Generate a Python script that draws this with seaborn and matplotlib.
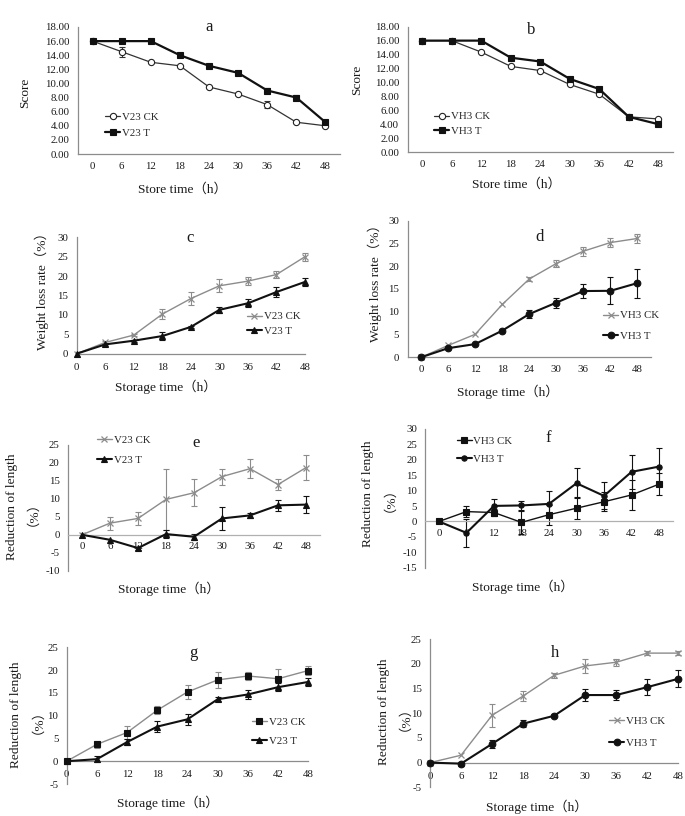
import numpy as np
import pandas as pd
import matplotlib
matplotlib.use("Agg")
import matplotlib.pyplot as plt
from matplotlib.ticker import FormatStrFormatter, FixedLocator
import seaborn as sns

times = [0, 6, 12, 18, 24, 30, 36, 42, 48]

# a: score V23
a_ck = [16.0, 14.5, 13.0, 12.5, 9.5, 8.5, 7.0, 4.5, 4.0]
a_ck_err = [0, 0.7, 0, 0, 0, 0, 0.5, 0, 0]
a_t = [16.0, 16.0, 16.0, 14.0, 12.5, 11.5, 9.0, 8.0, 4.5]
a_t_err = [0, 0, 0, 0, 0, 0, 0.3, 0.3, 0]
# b: score VH3
b_ck = [16.0, 16.0, 14.35, 12.3, 11.7, 9.7, 8.3, 5.05, 4.75]
b_ck_err = [0, 0, 0, 0, 0, 0, 0, 0, 0]
b_t = [16.0, 16.0, 16.0, 13.55, 13.0, 10.5, 9.05, 5.05, 4.0]
b_t_err = [0, 0, 0, 0, 0, 0, 0, 0, 0]
# c: weight loss V23
c_ck = [0, 2.9, 4.8, 10.2, 14.2, 17.5, 18.7, 20.4, 25.0]
c_ck_err = [0, 0.3, 0.3, 1.2, 1.6, 1.7, 1.1, 0.8, 1.0]
c_t = [0, 2.4, 3.35, 4.55, 6.9, 11.3, 13.0, 15.9, 18.5]
c_t_err = [0, 0.3, 0.3, 1.0, 0.3, 0.8, 1.0, 1.2, 1.1]
# d: weight loss VH3
d_ck = [0, 2.6, 5.05, 11.6, 17.2, 20.6, 23.3, 25.2, 26.1]
d_ck_err = [0, 0, 0, 0, 0.5, 0.8, 1.0, 0.9, 0.9]
d_t = [0, 2.0, 2.9, 5.85, 9.5, 12.0, 14.55, 14.6, 16.3]
d_t_err = [0, 0, 0, 0.4, 0.8, 1.1, 1.5, 3.0, 3.2]
# e: reduction of length V23
e_ck = [0, 3.25, 4.55, 9.85, 11.7, 16.2, 18.4, 14.0, 18.7]
e_ck_err = [0, 1.8, 1.9, 8.4, 3.8, 2.2, 2.6, 1.5, 3.4]
e_t = [0, -1.4, -3.7, 0.2, -0.55, 4.55, 5.4, 8.2, 8.4]
e_t_err = [0, 0, 0.4, 1.2, 0.8, 3.2, 0.6, 1.5, 2.4]
# f: reduction of length VH3
f_ck = [0, 3.2, 2.9, -0.3, 2.2, 4.3, 6.4, 8.6, 12.1]
f_ck_err = [0, 1.9, 1.2, 3.8, 3.3, 3.5, 3.0, 5.0, 3.5]
f_t = [0, -3.7, 5.05, 5.2, 5.7, 12.4, 8.3, 16.1, 17.8]
f_t_err = [0, 4.6, 2.2, 1.6, 4.1, 4.8, 4.4, 5.6, 6.0]
# g: reduction of length V23
g_ck = [0, 3.7, 6.3, 11.2, 15.2, 17.85, 18.7, 18.1, 19.9]
g_ck_err = [0, 0.8, 1.5, 0.9, 1.6, 1.7, 0.8, 2.2, 1.0]
g_t = [0, 0.45, 4.2, 7.6, 9.2, 13.6, 14.65, 16.25, 17.4]
g_t_err = [0, 0.6, 0.6, 1.2, 1.2, 0.4, 1.0, 0.9, 0.9]
# h: reduction of length VH3
h_ck = [0, 1.5, 9.6, 13.5, 17.7, 19.6, 20.35, 22.2, 22.2]
h_ck_err = [0, 0, 2.3, 1.0, 0.5, 1.4, 0.7, 0.4, 0.4]
h_t = [0, -0.2, 3.8, 7.9, 9.5, 13.7, 13.7, 15.3, 17.0]
h_t_err = [0, 0.4, 0.8, 0.7, 0.3, 1.2, 1.0, 1.6, 1.7]

sns.set_style("white")
plt.rcParams['font.family'] = ['Liberation Serif', 'Noto Sans CJK SC', 'DejaVu Sans']
plt.rcParams['axes.unicode_minus'] = False

GRAY = '#8c8c8c'
BLACK = '#111111'

st_open_circle = dict(color='#333333', lw=0.9, marker='o', ms=4.5, mfc='white', mec='#222222', mew=0.8)
st_square_thick = dict(color=BLACK, lw=1.6, marker='s', ms=5.0, mfc=BLACK, mec=BLACK, mew=0.8)
st_square_thin = dict(color=BLACK, lw=1.0, marker='s', ms=5.0, mfc=BLACK, mec=BLACK, mew=0.8)
st_x_gray = dict(color=GRAY, lw=1.0, marker='x', ms=5.0, mfc=GRAY, mec=GRAY, mew=0.9)
st_tri = dict(color=BLACK, lw=1.5, marker='^', ms=4.5, mfc=BLACK, mec=BLACK, mew=0.8)
st_circ = dict(color=BLACK, lw=1.5, marker='o', ms=4.8, mfc=BLACK, mec=BLACK, mew=0.8)
st_circ_small = dict(color=BLACK, lw=1.5, marker='o', ms=3.8, mfc=BLACK, mec=BLACK, mew=0.8)
st_square_grayline = dict(color=GRAY, lw=1.0, marker='s', ms=5.0, mfc=BLACK, mec=BLACK, mew=0.8)

W, H = 685, 816
fig = plt.figure(figsize=(W / 100, H / 100), dpi=100)

panels = [
    dict(name='a', box=(78, 340, 27, 154), cat=True, ylim=(0, 18), ystep=2, yfmt='%.2f',
         series=[('V23 CK', a_ck, a_ck_err, st_open_circle, '#333333'), ('V23 T', a_t, a_t_err, st_square_thick, BLACK)],
         xlabel='Store time（h）', ylabel='Score', xl=(0.40, -0.276), yl=(-0.202, 0.48),
         leg=(0.103, 0.33), lspace=0.62, title=(0.5, 1.0), spine0=False),
    dict(name='b', box=(407.5, 673, 26.7, 152), cat=True, ylim=(0, 18), ystep=2, yfmt='%.2f',
         series=[('VH3 CK', b_ck, b_ck_err, st_open_circle, '#333333'), ('VH3 T', b_t, b_t_err, st_square_thick, BLACK)],
         xlabel='Store time（h）', ylabel='Score', xl=(0.41, -0.255), yl=(-0.191, 0.575),
         leg=(0.101, 0.32), lspace=0.48, title=(0.465, 0.974), spine0=False),
    dict(name='c', box=(76.7, 305, 237.3, 353.7), cat=False, ylim=(0, 30), ystep=5, yfmt='%d',
         series=[('V23 CK', c_ck, c_ck_err, st_x_gray, GRAY), ('V23 T', c_t, c_t_err, st_tri, BLACK)],
         xlabel='Storage time（h）', ylabel='Weight loss rate（%）', xl=(0.39, -0.283), yl=(-0.153, 0.562),
         leg=(0.745, 0.36), lspace=0.48, title=(0.496, 0.994), spine0=False),
    dict(name='d', box=(407.5, 651, 220.7, 357.3), cat=True, ylim=(0, 30), ystep=5, yfmt='%d',
         series=[('VH3 CK', d_ck, d_ck_err, st_x_gray, GRAY), ('VH3 T', d_t, d_t_err, st_circ, BLACK)],
         xlabel='Storage time（h）', ylabel='Weight loss rate（%）', xl=(0.41, -0.256), yl=(-0.133, 0.566),
         leg=(0.804, 0.34), lspace=1.0, title=(0.544, 0.88), spine0=False),
    dict(name='e', box=(68, 320, 445, 570.7), cat=True, ylim=(-10, 25), ystep=5, yfmt='%d',
         series=[('V23 CK', e_ck, e_ck_err, st_x_gray, GRAY), ('V23 T', e_t, e_t_err, st_tri, BLACK)],
         xlabel='Storage time（h）', ylabel='Reduction of length\n（%）', xl=(0.40, -0.146), yl=(-0.194, 0.509),
         leg=(0.114, 1.075), lspace=0.95, title=(0.508, 1.016), spine0=True),
    dict(name='f', box=(425.2, 672.8, 429, 567.7), cat=True, ylim=(-15, 30), ystep=5, yfmt='%d',
         series=[('VH3 CK', f_ck, f_ck_err, st_square_thin, BLACK), ('VH3 T', f_t, f_t_err, st_circ_small, BLACK)],
         xlabel='Storage time（h）', ylabel='Reduction of length\n（%）', xl=(0.395, -0.141), yl=(-0.2, 0.536),
         leg=(0.127, 0.945), lspace=0.75, title=(0.496, 0.935), spine0=True),
    dict(name='g', box=(66.7, 308.3, 647.3, 784), cat=False, ylim=(-5, 25), ystep=5, yfmt='%d',
         series=[('V23 CK', g_ck, g_ck_err, st_square_grayline, GRAY), ('V23 T', g_t, g_t_err, st_tri, BLACK)],
         xlabel='Storage time（h）', ylabel='Reduction of length\n（%）', xl=(0.417, -0.137), yl=(-0.177, 0.505),
         leg=(0.766, 0.485), lspace=0.85, title=(0.523, 0.958), spine0=True),
    dict(name='h', box=(430, 678.3, 639.3, 787.3), cat=False, ylim=(-5, 25), ystep=5, yfmt='%d',
         series=[('VH3 CK', h_ck, h_ck_err, st_x_gray, GRAY), ('VH3 T', h_t, h_t_err, st_circ, BLACK)],
         xlabel='Storage time（h）', ylabel='Reduction of length\n（%）', xl=(0.43, -0.131), yl=(-0.157, 0.511),
         leg=(0.722, 0.477), lspace=1.1, title=(0.503, 0.907), spine0=True),
]

FS_TICK = 7.8
FS_LAB = 9.6
FS_LEG = 7.8
FS_TITLE = 12

for p in panels:
    x0, x1, y0, y1 = p['box']
    ax = fig.add_axes([x0 / W, 1 - y1 / H, (x1 - x0) / W, (y1 - y0) / H])
    n = len(times)
    if p['cat']:
        xs = np.arange(n)
    else:
        xs = np.array(times, dtype=float)
    for label, vals, errs, st, ecol in p['series']:
        df = pd.DataFrame({'x': xs, 'y': vals})
        sns.lineplot(data=df, x='x', y='y', ax=ax, label=label, errorbar=None, sort=False,
                     color=st['color'], linewidth=st['lw'], marker=st['marker'], markersize=st['ms'],
                     markerfacecolor=st['mfc'], markeredgecolor=st['mec'], markeredgewidth=st['mew'],
                     clip_on=False, zorder=3)
        e = np.array(errs, dtype=float)
        m = e > 0
        if m.any():
            ax.errorbar(xs[m], np.array(vals)[m], yerr=e[m], fmt='none', ecolor=ecol,
                        elinewidth=0.8, capsize=2.5, capthick=0.8, zorder=2, clip_on=False)
    if p['cat']:
        ax.set_xlim(-0.5, n - 0.5)
        ax.set_xticks(np.arange(n))
        ax.set_xticklabels([str(t) for t in times])
        ax.xaxis.set_minor_locator(FixedLocator(np.arange(n - 1) + 0.5))
        ax.tick_params(axis='x', which='major', length=0, pad=5.5, labelsize=FS_TICK)
        ax.tick_params(axis='x', which='minor', length=3, direction='in' if p['name'] in 'ab' else 'out',
                       color=GRAY, width=0.8)
    else:
        ax.set_xlim(0, 48)
        ax.set_xticks(times)
        ax.set_xticklabels([str(t) for t in times])
        ax.tick_params(axis='x', which='major', length=3, direction='out', color=GRAY, width=0.8,
                       pad=3.5, labelsize=FS_TICK)
    ylo, yhi = p['ylim']
    ax.set_ylim(ylo, yhi)
    ax.set_yticks(np.arange(ylo, yhi + 0.01, p['ystep']))
    ax.yaxis.set_major_formatter(FormatStrFormatter(p['yfmt']))
    ax.tick_params(axis='y', length=3, direction='out', color=GRAY, width=0.8, pad=3, labelsize=FS_TICK)
    ax.tick_params(axis='both', labelcolor='#1a1a1a')
    for s in ['top', 'right']:
        ax.spines[s].set_visible(False)
    for s in ['left', 'bottom']:
        ax.spines[s].set_color(GRAY)
        ax.spines[s].set_linewidth(0.9)
    if p['spine0']:
        ax.spines['bottom'].set_position(('data', 0))
        if p['name'] in 'ef':
            ax.spines['bottom'].set_color('#b0b0b0')
    ax.set_facecolor('white')
    ax.patch.set_alpha(0)
    ax.set_xlabel(p['xlabel'], fontsize=FS_LAB, color='#1a1a1a')
    ax.xaxis.set_label_coords(*p['xl'])
    ax.xaxis.label.set_va('center')
    lines = p['ylabel'].split('\n')
    if len(lines) == 1:
        ax.set_ylabel(lines[0], fontsize=FS_LAB, color='#1a1a1a')
        ax.yaxis.set_label_coords(*p['yl'])
    else:
        off = 7.5 / (x1 - x0)
        ax.set_ylabel(lines[0], fontsize=FS_LAB, color='#1a1a1a')
        ax.yaxis.set_label_coords(p['yl'][0] - off, p['yl'][1])
        ax.text(p['yl'][0] + off, p['yl'][1], lines[1], transform=ax.transAxes, rotation=90,
                ha='center', va='center', fontsize=FS_LAB, color='#1a1a1a')
    ax.yaxis.label.set_va('center')
    ax.text(p['title'][0], p['title'][1], p['name'], transform=ax.transAxes, ha='center', va='center',
            fontsize=FS_TITLE, color='#1a1a1a')
    ax.legend(loc='upper left', bbox_to_anchor=p['leg'], frameon=False, fontsize=FS_LEG,
              handlelength=1.4, handletextpad=0.15, borderpad=0, borderaxespad=0,
              labelspacing=p['lspace'], numpoints=1)

fig.savefig('out.png', dpi=100, facecolor='white')
